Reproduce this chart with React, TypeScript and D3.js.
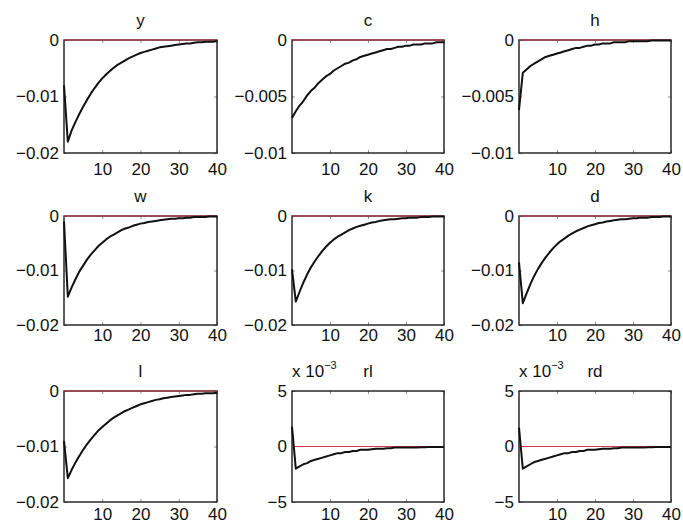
import React, { useEffect, useRef } from "react";
import * as d3 from "d3";

// impulse responses, periods 0..40
const periods = d3.range(0, 41);

const titles = ["y", "c", "h", "w", "k", "d", "l", "rl", "rd"];

const yIrf = [
  -0.008, -0.018, -0.016, -0.0145, -0.0131, -0.0118, -0.0106, -0.0095, -0.0085, -0.0076,
  -0.0068, -0.0061, -0.0055, -0.0049, -0.0044, -0.004, -0.0036, -0.0032, -0.0029, -0.0026,
  -0.0023, -0.0021, -0.0019, -0.0017, -0.0015, -0.0013, -0.0012, -0.0011, -0.001, -0.0009,
  -0.0008, -0.0007, -0.0006, -0.0006, -0.0005, -0.0004, -0.0004, -0.0003, -0.0003, -0.0003,
  -0.0002,
];
const cIrf = [
  -0.0069, -0.0063, -0.0058, -0.0054, -0.0049, -0.0045, -0.0042, -0.0038, -0.0035, -0.0032,
  -0.003, -0.0027, -0.0025, -0.0023, -0.0021, -0.002, -0.0018, -0.0017, -0.0015, -0.0014,
  -0.0013, -0.0012, -0.0011, -0.001, -0.0009, -0.0008, -0.0008, -0.0007, -0.0006, -0.0006,
  -0.0005, -0.0005, -0.0004, -0.0004, -0.0004, -0.0003, -0.0003, -0.0003, -0.0002, -0.0002,
  -0.0002,
];
const hIrf = [
  -0.0062, -0.0029, -0.0026, -0.0023, -0.0021, -0.0019, -0.0017, -0.0015, -0.0014, -0.0013,
  -0.0012, -0.0011, -0.001, -0.0009, -0.0008, -0.0007, -0.0007, -0.0006, -0.0005, -0.0005,
  -0.0004, -0.0004, -0.0003, -0.0003, -0.0003, -0.0002, -0.0002, -0.0002, -0.0002, -0.0001,
  -0.0001, -0.0001, -0.0001, -0.0001, -0.0001, -0.00005, -0.00005, -0.00005, -0.00005, -0.00005,
  -0.00005,
];
const wIrf = [
  -0.001, -0.0148, -0.0131, -0.0116, -0.0102, -0.0091, -0.008, -0.0071, -0.0063, -0.0055,
  -0.0049, -0.0043, -0.0038, -0.0034, -0.003, -0.0026, -0.0023, -0.0021, -0.0018, -0.0016,
  -0.0014, -0.0013, -0.0011, -0.001, -0.0009, -0.0008, -0.0007, -0.0006, -0.0005, -0.0005,
  -0.0004, -0.0004, -0.0003, -0.0003, -0.0002, -0.0002, -0.0002, -0.0002, -0.0001, -0.0001,
  -0.0001,
];
const kIrf = [
  -0.0098, -0.0157, -0.0139, -0.0122, -0.0107, -0.0094, -0.0083, -0.0073, -0.0064, -0.0056,
  -0.0049, -0.0043, -0.0038, -0.0034, -0.003, -0.0026, -0.0023, -0.002, -0.0018, -0.0016,
  -0.0014, -0.0012, -0.0011, -0.0009, -0.0008, -0.0007, -0.0006, -0.0006, -0.0005, -0.0004,
  -0.0004, -0.0003, -0.0003, -0.0003, -0.0002, -0.0002, -0.0002, -0.0001, -0.0001, -0.0001,
  -0.0001,
];
const dIrf = [
  -0.0085, -0.016, -0.0142, -0.0125, -0.011, -0.0097, -0.0086, -0.0076, -0.0067, -0.0059,
  -0.0052, -0.0046, -0.0041, -0.0036, -0.0032, -0.0028, -0.0025, -0.0022, -0.0019, -0.0017,
  -0.0015, -0.0013, -0.0012, -0.001, -0.0009, -0.0008, -0.0007, -0.0006, -0.0006, -0.0005,
  -0.0004, -0.0004, -0.0003, -0.0003, -0.0003, -0.0002, -0.0002, -0.0002, -0.0001, -0.0001,
  -0.0001,
];
const lIrf = [
  -0.009, -0.0157, -0.0142, -0.0129, -0.0117, -0.0106, -0.0096, -0.0087, -0.0079, -0.0071,
  -0.0065, -0.0059, -0.0053, -0.0048, -0.0044, -0.004, -0.0036, -0.0033, -0.003, -0.0027,
  -0.0024, -0.0022, -0.002, -0.0018, -0.0016, -0.0015, -0.0013, -0.0012, -0.0011, -0.001,
  -0.0009, -0.0008, -0.0007, -0.0007, -0.0006, -0.0005, -0.0005, -0.0004, -0.0004, -0.0004,
  -0.0003,
];
const rlIrf = [
  0.0018, -0.002, -0.0018, -0.0016, -0.0015, -0.0013, -0.0012, -0.0011, -0.001, -0.0009,
  -0.0008, -0.0007, -0.0006, -0.0006, -0.0005, -0.0005, -0.0004, -0.0004, -0.0003, -0.0003,
  -0.0003, -0.00025, -0.0002, -0.0002, -0.0002, -0.00015, -0.00015, -0.0001, -0.0001, -0.0001,
  -0.0001, -0.0001, -0.00008, -0.00008, -0.00006, -0.00006, -0.00005, -0.00005, -0.00004, -0.00004,
  -0.00004,
];
const rdIrf = [
  0.0017, -0.002, -0.0018, -0.0016, -0.0014, -0.0013, -0.0012, -0.0011, -0.001, -0.0009,
  -0.0008, -0.0007, -0.0006, -0.0006, -0.0005, -0.0005, -0.0004, -0.0004, -0.0003, -0.0003,
  -0.0003, -0.00025, -0.0002, -0.0002, -0.0002, -0.00015, -0.00015, -0.0001, -0.0001, -0.0001,
  -0.0001, -0.0001, -0.00008, -0.00008, -0.00006, -0.00006, -0.00005, -0.00005, -0.00004, -0.00004,
  -0.00004,
];

const xTicks = [10, 20, 30, 40];
const levelTicks = [-0.02, -0.01, 0];
const levelLabels = ["\u22120.02", "\u22120.01", "0"];
const smallTicks = [-0.01, -0.005, 0];
const smallLabels = ["\u22120.01", "\u22120.005", "0"];
const rateTicks = [-0.005, 0, 0.005];
const rateLabels = ["\u22125", "0", "5"];

const series = [yIrf, cIrf, hIrf, wIrf, kIrf, dIrf, lIrf, rlIrf, rdIrf];
const tickSets = [levelTicks, smallTicks, smallTicks, levelTicks, levelTicks, levelTicks, levelTicks, rateTicks, rateTicks];
const labelSets = [levelLabels, smallLabels, smallLabels, levelLabels, levelLabels, levelLabels, levelLabels, rateLabels, rateLabels];

const width = 683;
const height = 526;
const font = "'Liberation Sans', Arial, Helvetica, sans-serif";
const fontSize = 17;

const colLeft = [64, 292, 519];
const colRight = [217, 444, 671];
const rowTop = [40, 216, 391];
const rowBottom = [153, 325, 502];
const xLabelPad = [10, 4, 6];

function App() {
  const ref = useRef<SVGSVGElement>(null);

  useEffect(() => {
    const svg = d3.select(ref.current);
    svg.selectAll("*").remove();

    series.forEach((values, i) => {
      const col = i % 3;
      const row = Math.floor(i / 3);
      const ticks = tickSets[i];
      const labels = labelSets[i];

      const xScale = d3.scaleLinear().domain([0, 40]).range([colLeft[col], colRight[col]]);
      const yScale = d3
        .scaleLinear()
        .domain([ticks[0], ticks[2]])
        .range([rowBottom[row], rowTop[row]]);

      const g = svg.append("g");

      // axes, ticks pointing inward
      const left = g
        .append("g")
        .attr("transform", `translate(${xScale(0)},0)`)
        .call(
          d3
            .axisLeft(yScale)
            .tickValues(ticks)
            .tickFormat((d, j) => labels[j])
            .tickSize(-3)
            .tickPadding(5)
        );
      const bottom = g
        .append("g")
        .attr("transform", `translate(0,${yScale.range()[0]})`)
        .call(
          d3
            .axisBottom(xScale)
            .tickValues(xTicks)
            .tickFormat(d3.format("d"))
            .tickSize(-3)
            .tickPadding(xLabelPad[row])
        );
      const top = g
        .append("g")
        .attr("transform", `translate(0,${yScale.range()[1]})`)
        .call(d3.axisTop(xScale).tickValues(xTicks).tickFormat(() => "").tickSize(-3));
      const right = g
        .append("g")
        .attr("transform", `translate(${xScale(40)},0)`)
        .call(d3.axisRight(yScale).tickValues(ticks).tickFormat(() => "").tickSize(-3));

      [left, bottom, top, right].forEach((a) => {
        a.select(".domain").remove();
        a.selectAll("line").attr("stroke", "#777").attr("stroke-width", 0.8);
        a.selectAll("text")
          .attr("font-family", font)
          .attr("font-size", fontSize)
          .attr("fill", "#111");
      });

      // box
      g.append("rect")
        .attr("x", xScale(0))
        .attr("y", yScale.range()[1])
        .attr("width", xScale(40) - xScale(0))
        .attr("height", yScale.range()[0] - yScale.range()[1])
        .attr("fill", "none")
        .attr("stroke", "#1a1a1a")
        .attr("stroke-width", 1.4);

      // zero line
      g.append("line")
        .attr("x1", xScale(0))
        .attr("x2", xScale(40))
        .attr("y1", yScale(0))
        .attr("y2", yScale(0))
        .attr("stroke", "#d23a48")
        .attr("stroke-width", 1.2);

      // irf line
      const line = d3
        .line<number>()
        .x((d, j) => xScale(periods[j]))
        .y((d) => yScale(d));

      g.append("path")
        .datum(values)
        .attr("d", line)
        .attr("fill", "none")
        .attr("stroke", "#111")
        .attr("stroke-width", 2)
        .attr("stroke-linejoin", "round");

      // title
      g.append("text")
        .attr("x", (xScale(0) + xScale(40)) / 2)
        .attr("y", yScale.range()[1] - 14)
        .attr("text-anchor", "middle")
        .attr("font-family", font)
        .attr("font-size", fontSize)
        .attr("fill", "#111")
        .text(titles[i]);

      // scale factor for the rate panels
      if (ticks === rateTicks) {
        const ex = g
          .append("text")
          .attr("x", xScale(0))
          .attr("y", yScale.range()[1] - 14)
          .attr("font-family", font)
          .attr("font-size", fontSize)
          .attr("fill", "#111");
        ex.append("tspan").text("x 10");
        ex.append("tspan").attr("dy", -8).attr("font-size", 11).text("\u22123");
      }
    });
  }, []);

  return (
    <svg
      ref={ref}
      width={width}
      height={height}
      style={{ position: "absolute", left: 0, top: 0, background: "#fff" }}
    />
  );
}

export default App;
